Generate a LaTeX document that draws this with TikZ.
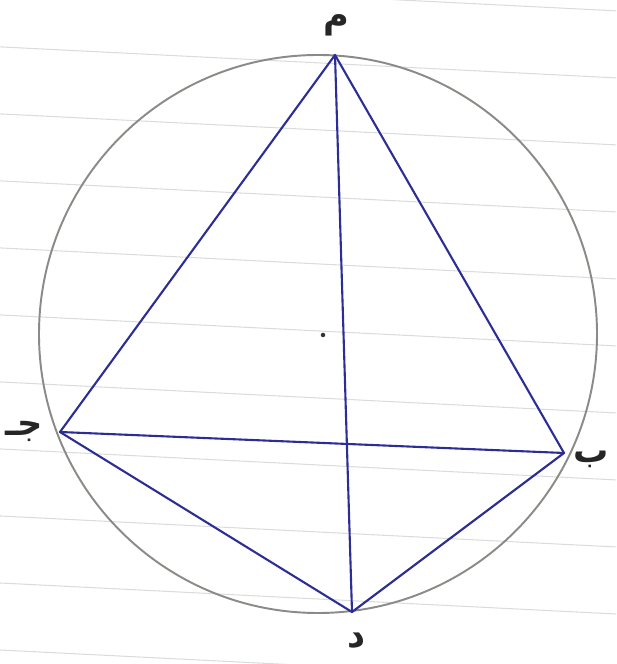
\documentclass[tikz,border=0pt]{standalone}
\usepackage{fontspec}
\usepackage{xcolor}
\usetikzlibrary{positioning}
\newfontfamily\arabicfont[Script=Arabic]{DejaVu Sans}
\TeXXeTstate=1
\definecolor{penblue}{RGB}{44,46,150}
\definecolor{pencilgray}{RGB}{138,138,134}
\definecolor{ruling}{RGB}{218,220,220}

\begin{document}
\begin{tikzpicture}[
    rule/.style={draw=ruling, line width=0.6pt},
    rim/.style={draw=pencilgray, line width=1.1pt},
    seg/.style={draw=penblue, line width=1.2pt, line cap=round},
    vlabel/.style={font=\arabicfont\bfseries\fontsize{20}{22}\selectfont, text=black!85, inner sep=1pt}
]
\useasboundingbox (0,0) rectangle (12.32,13.28);

% ---- Notebook ruling ----
\begin{scope}
\clip (0,0) rectangle (12.32,13.28);
\foreach \k in {-1,...,9} { \draw[rule] (0,{(617-67*\k)*0.02}) -- ++(12.32,-0.62); }
\end{scope}

% ---- Circle and its centre ----
\coordinate (o) at (6.36, 6.60);
\draw[rim] (o) circle[radius=5.58];
\fill[black!80] (6.46, 6.58) circle[radius=0.045];

% ---- Points on the circle ----
\coordinate (m) at (6.70, 12.18);
\coordinate (j) at (1.20,  4.64);
\coordinate (b) at (11.28, 4.22);
\coordinate (d) at (7.04,  1.04);

% ---- Segments ----
\draw[seg] (m) -- (j);
\draw[seg] (m) -- (b);
\draw[seg] (m) -- (d);
\draw[seg] (j) -- (b);
\draw[seg] (j) -- (d);
\draw[seg] (b) -- (d);

% ---- Labels ----
\node[vlabel] (lm) at (6.72, 12.78) {\beginR م\endR};
\node[vlabel] (lb) at (11.82, 4.10) {\beginR ب\endR};
\node[vlabel] (lj) at (0.48,  4.66) {\beginR جـ\endR};
\node[vlabel] (ld) at (7.14,  0.46) {\beginR د\endR};

\end{tikzpicture}
\end{document}
